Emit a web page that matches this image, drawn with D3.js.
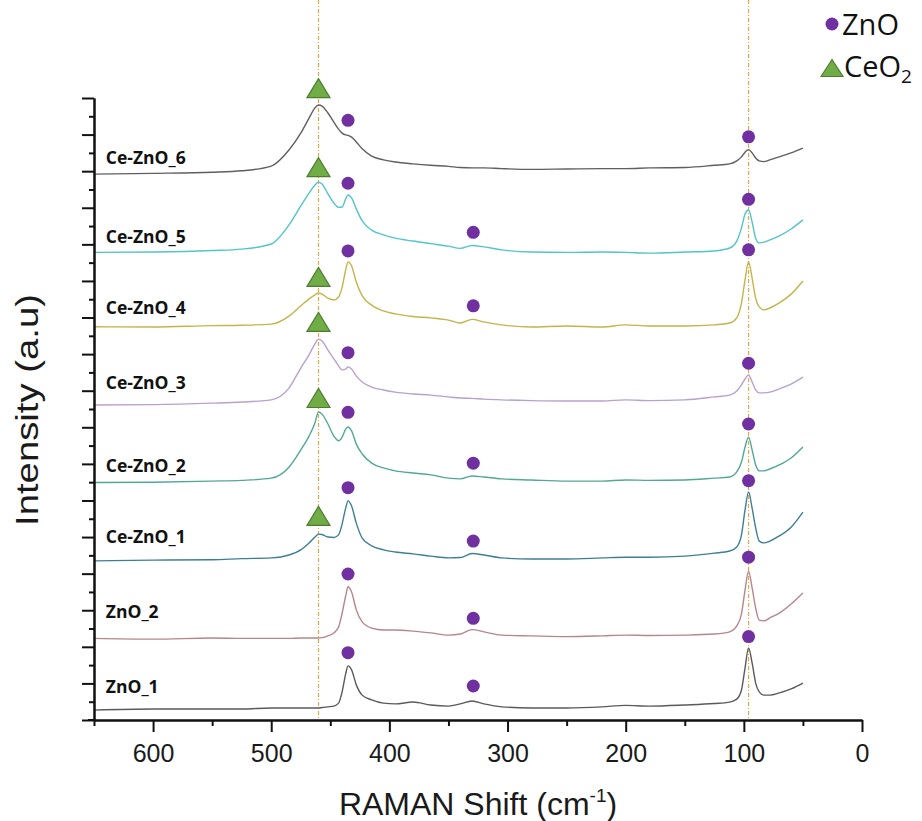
<!DOCTYPE html>
<html><head><meta charset="utf-8">
<script src="https://cdn.jsdelivr.net/npm/d3@7/dist/d3.min.js"></script>
<style>body{margin:0;background:#fff}svg{display:block}</style>
</head><body>
<svg id="chart" width="922" height="821"></svg>
<script>
// Raman shift grid (cm-1)
const shifts = [650,600,550,525,500,485,475,468,463,460,457,452,447,443,440,437,435,432,428,423,415,405,395,380,365,350,340,330,320,305,280,250,220,200,180,150,125,112,106,102,99,96,93,90,87,83,78,70,60,50];

const seriesNames = ["ZnO_1","ZnO_2","Ce-ZnO_1","Ce-ZnO_2","Ce-ZnO_3","Ce-ZnO_4","Ce-ZnO_5","Ce-ZnO_6"];
const seriesColors = ["#5a5a5a","#b5868c","#3e7f96","#52a896","#b9a0cf","#c4b44a","#52c5ca","#625d62"];

// stacked intensities (a.u.), one value per shift
const ZnO_1    = [0.27,0.30,0.30,0.30,0.33,0.33,0.33,0.33,0.33,0.33,0.34,0.36,0.38,0.46,0.77,1.26,1.48,1.37,0.96,0.68,0.55,0.46,0.44,0.49,0.41,0.38,0.44,0.52,0.44,0.36,0.33,0.33,0.36,0.40,0.38,0.41,0.45,0.49,0.57,0.82,1.42,1.97,1.56,1.01,0.77,0.68,0.68,0.74,0.85,1.01];
const ZnO_2    = [2.23,2.21,2.24,2.23,2.23,2.23,2.24,2.24,2.24,2.24,2.25,2.30,2.38,2.54,2.92,3.39,3.64,3.50,3.01,2.68,2.51,2.46,2.46,2.43,2.38,2.32,2.35,2.47,2.41,2.32,2.30,2.28,2.30,2.32,2.31,2.32,2.35,2.41,2.57,2.90,3.55,4.07,3.61,3.06,2.73,2.71,2.79,2.92,3.17,3.47];
const CeZnO_1  = [4.35,4.37,4.38,4.41,4.43,4.51,4.65,4.84,5.00,5.08,5.07,5.00,4.99,5.06,5.36,5.79,5.99,5.85,5.38,4.97,4.76,4.65,4.59,4.54,4.48,4.43,4.44,4.55,4.51,4.43,4.40,4.40,4.43,4.45,4.45,4.48,4.56,4.62,4.73,5.06,5.74,6.23,5.79,5.25,4.89,4.84,4.89,5.03,5.27,5.68];
const CeZnO_2  = [6.49,6.50,6.53,6.55,6.61,6.91,7.38,7.76,8.12,8.42,8.36,8.09,7.76,7.63,7.73,7.95,8.01,7.90,7.54,7.27,7.02,6.89,6.81,6.75,6.70,6.61,6.59,6.67,6.64,6.59,6.56,6.53,6.53,6.56,6.55,6.56,6.61,6.64,6.78,7.05,7.46,7.73,7.38,6.97,6.81,6.81,6.86,6.97,7.16,7.46];
const CeZnO_3  = [8.61,8.62,8.66,8.69,8.75,9.07,9.62,9.98,10.28,10.41,10.36,10.11,9.87,9.68,9.57,9.59,9.65,9.59,9.40,9.24,9.10,9.02,8.96,8.91,8.88,8.83,8.80,8.79,8.77,8.75,8.73,8.72,8.72,8.75,8.73,8.75,8.83,8.88,8.99,9.16,9.32,9.43,9.24,9.02,8.94,8.94,8.96,9.05,9.18,9.37];
const CeZnO_4  = [10.75,10.74,10.78,10.79,10.82,11.04,11.32,11.51,11.62,11.67,11.64,11.53,11.48,11.56,11.83,12.30,12.52,12.41,11.97,11.59,11.34,11.18,11.10,11.03,10.99,10.93,10.85,10.95,10.88,10.80,10.74,10.77,10.74,10.80,10.77,10.77,10.80,10.85,10.99,11.40,12.03,12.52,12.08,11.53,11.29,11.21,11.26,11.40,11.64,12.00];
const CeZnO_5  = [12.78,12.79,12.83,12.87,13.01,13.53,14.05,14.40,14.62,14.70,14.65,14.38,14.13,14.01,14.02,14.24,14.35,14.27,13.97,13.64,13.39,13.26,13.17,13.09,13.02,12.95,12.89,12.97,12.93,12.85,12.79,12.78,12.79,12.78,12.76,12.79,12.82,12.90,13.09,13.45,13.83,13.94,13.61,13.17,13.04,13.06,13.12,13.23,13.42,13.67];
const CeZnO_6  = [14.92,14.94,14.97,15.01,15.14,15.58,16.04,16.45,16.73,16.81,16.78,16.59,16.34,16.15,16.04,15.99,15.98,15.93,15.80,15.61,15.41,15.31,15.25,15.20,15.16,15.13,15.10,15.09,15.09,15.07,15.05,15.06,15.07,15.07,15.09,15.10,15.16,15.20,15.28,15.39,15.52,15.59,15.50,15.36,15.28,15.26,15.31,15.39,15.50,15.63];
const seriesValues = [ZnO_1, ZnO_2, CeZnO_1, CeZnO_2, CeZnO_3, CeZnO_4, CeZnO_5, CeZnO_6];

// series label anchors [shift, intensity]
const labelShift = 640;
const labelLevels = [0.75,2.79,4.85,6.79,9.05,11.10,13.05,15.20];

// peak markers [shift, intensity]
const ceo2Marks = [[460,17.27],[460,15.11],[460,12.11],[460,10.88],[460,8.80],[460,5.58]];
const znoMarks = [[435,16.39],[435,14.67],[435,12.82],[435,10.04],[435,8.41],[435,6.35],[435,3.99],[435,1.84],
                  [329,13.33],[329,11.32],[329,7.02],[329,4.89],[329,2.78],[329,0.93],
                  [96,15.94],[96,14.23],[96,12.85],[96,9.75],[96,8.09],[96,6.54],[96,4.45],[96,2.28]];
const refLines = [460, 96];

const xMajor = [600,500,400,300,200,100,0];
const xMinor = [650,550,450,350,250,150,50];
const yMajor = d3.range(0, 18, 1);
const yMinor = d3.range(0.5, 17, 1);

const svg = d3.select("#chart");
const x = d3.scaleLinear().domain([650, 0]).range([94, 862]);
const y = d3.scaleLinear().domain([0, 17]).range([720, 98]);
const FONT = "'Liberation Sans', Arial, sans-serif";

// reference dashed lines
svg.selectAll("line.ref").data(refLines).join("line")
  .attr("x1", d => x(d)).attr("x2", d => x(d))
  .attr("y1", 0).attr("y2", y(0))
  .attr("stroke", "#e6a845").attr("stroke-width", 1.2).attr("stroke-dasharray", "4,2,1,2");

// spectra
const line = d3.line().x(d => x(d[0])).y(d => y(d[1])).curve(d3.curveMonotoneX);
seriesValues.forEach((vals, i) => {
  svg.append("path").datum(shifts.map((s, j) => [s, vals[j]]))
    .attr("d", line).attr("fill", "none")
    .attr("stroke", seriesColors[i]).attr("stroke-width", 1.4);
});

// series labels
svg.selectAll("text.lab").data(seriesNames).join("text")
  .attr("x", x(labelShift)).attr("y", (d, i) => y(labelLevels[i]))
  .attr("font-family", "'Open Sans', sans-serif").attr("font-weight", 700)
  .attr("font-size", 17.5).attr("fill", "#111").text(d => d);

// markers
svg.selectAll("circle.zno").data(znoMarks).join("circle")
  .attr("cx", d => x(d[0])).attr("cy", d => y(d[1])).attr("r", 6.5).attr("fill", "#7030a0");
const tri = (cx, cy, w, h) => `M${cx - w / 2},${cy + h / 2}L${cx},${cy - h / 2}L${cx + w / 2},${cy + h / 2}Z`;
svg.selectAll("path.ceo2").data(ceo2Marks).join("path")
  .attr("d", d => tri(x(d[0]), y(d[1]), 23, 19))
  .attr("fill", "#70ad47").attr("stroke", "#4e7d30").attr("stroke-width", 1.2);

// axes
const gx = svg.append("g").attr("transform", `translate(0,${y(0)})`);
gx.call(d3.axisBottom(x).tickValues(xMajor).tickSize(12).tickSizeOuter(0).tickFormat(d3.format("d")));
gx.append("g").call(d3.axisBottom(x).tickValues(xMinor).tickSize(6).tickSizeOuter(0).tickFormat(""));
gx.selectAll(".domain").attr("stroke-width", 2).attr("stroke", "#111");
gx.selectAll(".tick line").attr("stroke-width", 2).attr("stroke", "#111");
gx.selectAll(".tick text").attr("y", 24).attr("font-family", FONT).attr("font-size", 25).attr("fill", "#1a1a1a");

const gy = svg.append("g").attr("transform", `translate(${x(650)},0)`);
gy.call(d3.axisLeft(y).tickValues(yMajor).tickSize(12).tickSizeOuter(0).tickFormat(""));
gy.append("g").call(d3.axisLeft(y).tickValues(yMinor).tickSize(5).tickSizeOuter(0).tickFormat(""));
gy.selectAll(".domain").attr("stroke-width", 2).attr("stroke", "#111");
gy.selectAll(".tick line").attr("stroke-width", 2).attr("stroke", "#111");
svg.append("line").attr("x1", x(650) - 6).attr("x2", x(650)).attr("y1", y(0)).attr("y2", y(0)).attr("stroke", "#111").attr("stroke-width", 2);

// axis titles
const xt = svg.append("text").attr("x", 478).attr("y", 815).attr("text-anchor", "middle")
  .attr("font-family", FONT).attr("font-size", 32).attr("fill", "#1a1a1a");
xt.append("tspan").text("RAMAN Shift (cm");
xt.append("tspan").attr("font-size", 19).attr("dy", -13).text("-1");
xt.append("tspan").attr("dy", 13).text(")");

svg.append("text").attr("transform", "translate(38,410) rotate(-90)").attr("text-anchor", "middle")
  .attr("font-family", FONT).attr("font-size", 32).attr("fill", "#1a1a1a")
  .attr("textLength", 232).attr("lengthAdjust", "spacingAndGlyphs").text("Intensity (a.u)");

// legend
svg.append("circle").attr("cx", 832).attr("cy", 24).attr("r", 6.5).attr("fill", "#7030a0");
svg.append("text").attr("x", 842).attr("y", 35).attr("font-family", "'Open Sans', sans-serif")
  .attr("font-size", 29).attr("fill", "#111").text("ZnO");
svg.append("path").attr("d", tri(832, 68, 22, 17)).attr("fill", "#70ad47").attr("stroke", "#4e7d30").attr("stroke-width", 1.2);
const lt = svg.append("text").attr("x", 844).attr("y", 77).attr("font-family", "'Open Sans', sans-serif")
  .attr("font-size", 29).attr("fill", "#111");
lt.append("tspan").text("CeO");
lt.append("tspan").attr("font-size", 19).attr("dy", 6).text("2");
</script>
</body></html>
